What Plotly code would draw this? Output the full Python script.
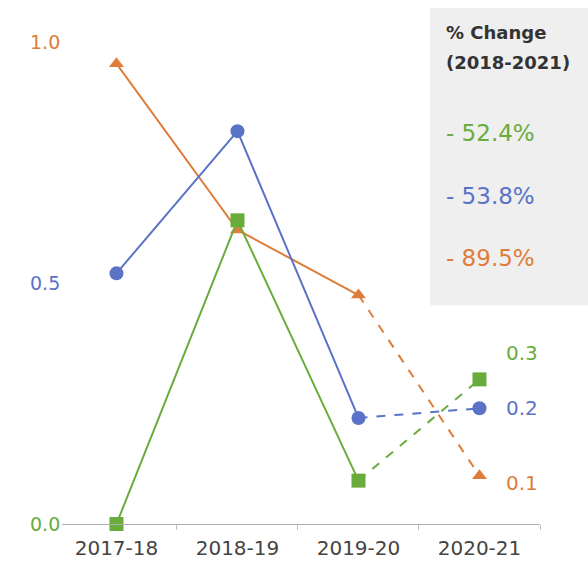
import plotly.graph_objects as go

years = ["2017-18", "2018-19", "2019-20", "2020-21"]
orange_vals = [0.955, 0.61, 0.475, 0.10]
blue_vals = [0.52, 0.815, 0.22, 0.24]
green_vals = [0.0, 0.63, 0.09, 0.30]
pct_labels = ["- 52.4%", "- 53.8%", "- 89.5%"]
ytick_vals = [0.0, 0.5, 1.0]
ytick_text = ["0.0", "0.5", "1.0"]

ORANGE = "#de7d3a"
BLUE = "#5b73c6"
GREEN = "#6aac3c"
FONT = "DejaVu Sans"

series = [
    (orange_vals, ORANGE, "triangle-up", 13),
    (blue_vals, BLUE, "circle", 14),
    (green_vals, GREEN, "square", 14),
]

fig = go.Figure()
for vals, col, sym, sz in series:
    fig.add_trace(go.Scatter(x=years[2:], y=vals[2:], mode="lines",
                             line=dict(color=col, width=2, dash="dash"),
                             showlegend=False, cliponaxis=False))
for vals, col, sym, sz in series:
    fig.add_trace(go.Scatter(x=years[:3], y=vals[:3], mode="lines+markers",
                             line=dict(color=col, width=2),
                             marker=dict(symbol=sym, size=sz, color=col),
                             showlegend=False, cliponaxis=False))
    fig.add_trace(go.Scatter(x=years[3:], y=vals[3:], mode="markers",
                             marker=dict(symbol=sym, size=sz, color=col),
                             showlegend=False, cliponaxis=False))

# end labels
end_shifts = {ORANGE: -7, BLUE: 0, GREEN: 26}
for vals, col, sym, sz in series:
    fig.add_annotation(x=years[3], y=vals[3], xref="x", yref="y",
                       text=f"{vals[3]:.1f}", showarrow=False,
                       xshift=43, yshift=end_shifts[col], yanchor="middle",
                       font=dict(family=FONT, size=20, color=col))

# y tick labels coloured
ycols = [GREEN, BLUE, ORANGE]
for v, t, c in zip(ytick_vals, ytick_text, ycols):
    fig.add_annotation(x=0, y=v, xref="paper", yref="y", text=t,
                       showarrow=False, xanchor="right", yanchor="middle",
                       xshift=0,
                       font=dict(family=FONT, size=19, color=c))

# % change box
fig.add_shape(type="rect", xref="paper", yref="paper",
              x0=0.770, x1=1.11, y0=0.454, y1=1.0705,
              fillcolor="#efefef", line=dict(width=0), layer="below")
fig.add_annotation(xref="paper", yref="paper", x=0.799, y=1.0187,
                   text="<b>% Change</b>", showarrow=False, xanchor="left",
                   yanchor="middle",
                   font=dict(family=FONT, size=18, color="#333333"))
fig.add_annotation(xref="paper", yref="paper", x=0.799, y=0.958,
                   text="<b>(2018-2021)</b>", showarrow=False, xanchor="left",
                   yanchor="middle",
                   font=dict(family=FONT, size=18, color="#333333"))
pct_y = [0.811, 0.680, 0.552]
for t, c, yy in zip(pct_labels, [GREEN, BLUE, ORANGE], pct_y):
    fig.add_annotation(xref="paper", yref="paper", x=0.799, y=yy, text=t,
                       showarrow=False, xanchor="left", yanchor="middle",
                       font=dict(family=FONT, size=23, color=c))

fig.update_layout(
    width=588, height=579,
    margin=dict(l=62, r=48, t=42, b=55),
    plot_bgcolor="white", paper_bgcolor="white",
    font=dict(family=FONT, size=20, color="#444444"),
    xaxis=dict(type="category", categoryorder="array", categoryarray=years,
               range=[-0.45, 3.5], showgrid=False,
               showline=True, linecolor="#b0b0b0", linewidth=1.2,
               ticks="outside", tickson="boundaries", ticklen=5,
               tickcolor="#c0c0c0", zeroline=False, ticklabelstandoff=6,
               tickfont=dict(family=FONT, size=20, color="#444444")),
    yaxis=dict(range=[0, 1.0], showgrid=False, zeroline=False,
               showticklabels=False, showline=False),
)

fig.write_html("out.html", config={"displayModeBar": False},
               post_script="document.body.style.margin='0px';document.body.style.overflow='hidden';")
